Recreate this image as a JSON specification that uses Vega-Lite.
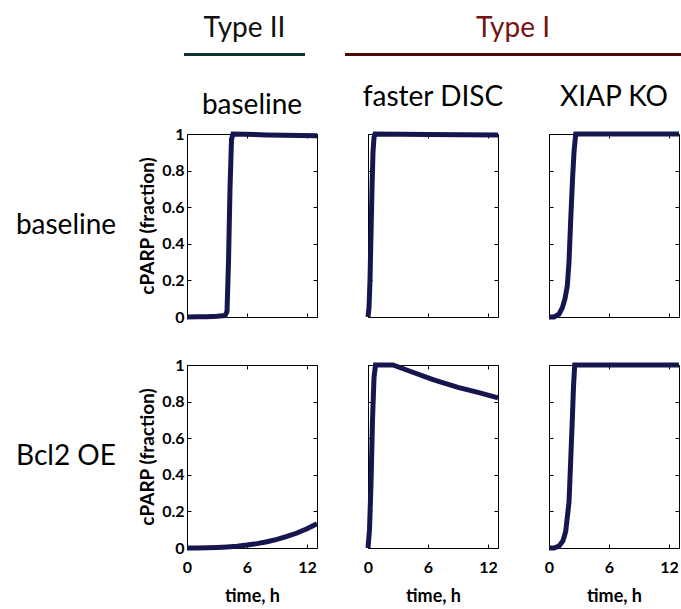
{
  "$schema": "https://vega.github.io/schema/vega-lite/v6.json",
  "padding": {"left": 6, "top": 14, "right": 0, "bottom": 0},
  "background": "white",
  "spacing": 23,
  "config": {
    "view": {"stroke": "#000", "strokeWidth": 1},
    "font": "Lato",
    "axis": {"grid": false, "domain": false, "minExtent": 0, "tickColor": "#000", "tickWidth": 1, "tickSize": -4, "labelFont": "Lato", "labelFontWeight": "bold", "labelFontSize": 16, "labelColor": "#000", "labelFlush": false, "titleFont": "Lato", "titleFontWeight": "bold", "titleColor": "#000", "titleFontSize": 19},
    "title": {"font": "Lato", "fontSize": 28, "fontWeight": "normal", "color": "#000"}
  },
  "datasets": {
    "curves": [
      {"model": "Type II baseline", "condition": "baseline", "t": 0, "v": 0},
      {"model": "Type II baseline", "condition": "baseline", "t": 1, "v": 0.001},
      {"model": "Type II baseline", "condition": "baseline", "t": 2, "v": 0.002},
      {"model": "Type II baseline", "condition": "baseline", "t": 3, "v": 0.004},
      {"model": "Type II baseline", "condition": "baseline", "t": 3.8, "v": 0.008},
      {"model": "Type II baseline", "condition": "baseline", "t": 4.0, "v": 0.03},
      {"model": "Type II baseline", "condition": "baseline", "t": 4.15, "v": 0.3},
      {"model": "Type II baseline", "condition": "baseline", "t": 4.3, "v": 0.7},
      {"model": "Type II baseline", "condition": "baseline", "t": 4.45, "v": 0.97},
      {"model": "Type II baseline", "condition": "baseline", "t": 4.6, "v": 1.0},
      {"model": "Type II baseline", "condition": "baseline", "t": 8, "v": 0.995},
      {"model": "Type II baseline", "condition": "baseline", "t": 13, "v": 0.99},

      {"model": "faster DISC", "condition": "baseline", "t": 0, "v": 0},
      {"model": "faster DISC", "condition": "baseline", "t": 0.1, "v": 0.05},
      {"model": "faster DISC", "condition": "baseline", "t": 0.2, "v": 0.2},
      {"model": "faster DISC", "condition": "baseline", "t": 0.3, "v": 0.45},
      {"model": "faster DISC", "condition": "baseline", "t": 0.4, "v": 0.7},
      {"model": "faster DISC", "condition": "baseline", "t": 0.5, "v": 0.9},
      {"model": "faster DISC", "condition": "baseline", "t": 0.6, "v": 0.98},
      {"model": "faster DISC", "condition": "baseline", "t": 0.7, "v": 1.0},
      {"model": "faster DISC", "condition": "baseline", "t": 6, "v": 0.997},
      {"model": "faster DISC", "condition": "baseline", "t": 13, "v": 0.995},

      {"model": "XIAP KO", "condition": "baseline", "t": 0, "v": 0},
      {"model": "XIAP KO", "condition": "baseline", "t": 0.5, "v": 0},
      {"model": "XIAP KO", "condition": "baseline", "t": 1.0, "v": 0.015},
      {"model": "XIAP KO", "condition": "baseline", "t": 1.33, "v": 0.05},
      {"model": "XIAP KO", "condition": "baseline", "t": 1.6, "v": 0.1},
      {"model": "XIAP KO", "condition": "baseline", "t": 1.83, "v": 0.17},
      {"model": "XIAP KO", "condition": "baseline", "t": 2.0, "v": 0.3},
      {"model": "XIAP KO", "condition": "baseline", "t": 2.17, "v": 0.53},
      {"model": "XIAP KO", "condition": "baseline", "t": 2.35, "v": 0.75},
      {"model": "XIAP KO", "condition": "baseline", "t": 2.5, "v": 0.9},
      {"model": "XIAP KO", "condition": "baseline", "t": 2.67, "v": 1.0},
      {"model": "XIAP KO", "condition": "baseline", "t": 13, "v": 1.0},

      {"model": "Type II baseline", "condition": "Bcl2 OE", "t": 0, "v": 0},
      {"model": "Type II baseline", "condition": "Bcl2 OE", "t": 1, "v": 0},
      {"model": "Type II baseline", "condition": "Bcl2 OE", "t": 2, "v": 0.001},
      {"model": "Type II baseline", "condition": "Bcl2 OE", "t": 3, "v": 0.003},
      {"model": "Type II baseline", "condition": "Bcl2 OE", "t": 4, "v": 0.006},
      {"model": "Type II baseline", "condition": "Bcl2 OE", "t": 5, "v": 0.01},
      {"model": "Type II baseline", "condition": "Bcl2 OE", "t": 6, "v": 0.016},
      {"model": "Type II baseline", "condition": "Bcl2 OE", "t": 7, "v": 0.024},
      {"model": "Type II baseline", "condition": "Bcl2 OE", "t": 8, "v": 0.034},
      {"model": "Type II baseline", "condition": "Bcl2 OE", "t": 9, "v": 0.047},
      {"model": "Type II baseline", "condition": "Bcl2 OE", "t": 10, "v": 0.063},
      {"model": "Type II baseline", "condition": "Bcl2 OE", "t": 11, "v": 0.082},
      {"model": "Type II baseline", "condition": "Bcl2 OE", "t": 12, "v": 0.105},
      {"model": "Type II baseline", "condition": "Bcl2 OE", "t": 13, "v": 0.132},

      {"model": "faster DISC", "condition": "Bcl2 OE", "t": 0, "v": 0},
      {"model": "faster DISC", "condition": "Bcl2 OE", "t": 0.15, "v": 0.1},
      {"model": "faster DISC", "condition": "Bcl2 OE", "t": 0.3, "v": 0.35},
      {"model": "faster DISC", "condition": "Bcl2 OE", "t": 0.45, "v": 0.7},
      {"model": "faster DISC", "condition": "Bcl2 OE", "t": 0.6, "v": 0.93},
      {"model": "faster DISC", "condition": "Bcl2 OE", "t": 0.75, "v": 1.0},
      {"model": "faster DISC", "condition": "Bcl2 OE", "t": 2.5, "v": 1.0},
      {"model": "faster DISC", "condition": "Bcl2 OE", "t": 4, "v": 0.97},
      {"model": "faster DISC", "condition": "Bcl2 OE", "t": 6.5, "v": 0.92},
      {"model": "faster DISC", "condition": "Bcl2 OE", "t": 9, "v": 0.878},
      {"model": "faster DISC", "condition": "Bcl2 OE", "t": 11, "v": 0.85},
      {"model": "faster DISC", "condition": "Bcl2 OE", "t": 13, "v": 0.82},

      {"model": "XIAP KO", "condition": "Bcl2 OE", "t": 0, "v": 0},
      {"model": "XIAP KO", "condition": "Bcl2 OE", "t": 0.5, "v": 0},
      {"model": "XIAP KO", "condition": "Bcl2 OE", "t": 1.0, "v": 0.01},
      {"model": "XIAP KO", "condition": "Bcl2 OE", "t": 1.4, "v": 0.04},
      {"model": "XIAP KO", "condition": "Bcl2 OE", "t": 1.67, "v": 0.09},
      {"model": "XIAP KO", "condition": "Bcl2 OE", "t": 2.0, "v": 0.25},
      {"model": "XIAP KO", "condition": "Bcl2 OE", "t": 2.15, "v": 0.45},
      {"model": "XIAP KO", "condition": "Bcl2 OE", "t": 2.33, "v": 0.7},
      {"model": "XIAP KO", "condition": "Bcl2 OE", "t": 2.45, "v": 0.88},
      {"model": "XIAP KO", "condition": "Bcl2 OE", "t": 2.57, "v": 1.0},
      {"model": "XIAP KO", "condition": "Bcl2 OE", "t": 13, "v": 1.0}
    ]
  },
  "vconcat": [
    {
      "spacing": 40,
      "hconcat": [
        {"width": 138, "height": 3, "view": {"stroke": null}, "data": {"values": [{}]}, "mark": "text", "encoding": {}},
        {"width": 121, "height": 3, "view": {"stroke": null, "fill": "#0f3034"}, "title": {"text": "Type II", "offset": 6, "color": "#111"}, "data": {"values": [{}]}, "mark": "text", "encoding": {}},
        {"width": 336, "height": 3, "view": {"stroke": null, "fill": "#4e0a0a"}, "title": {"text": "Type I", "offset": 6, "color": "#751313"}, "data": {"values": [{}]}, "mark": "text", "encoding": {}}
      ]
    },
    {
      "spacing": 26,
      "vconcat": [
        {
          "spacing": 29,
          "hconcat": [
            {
              "spacing": 12,
              "hconcat": [
                {"width": 120, "height": 183, "view": {"stroke": null}, "data": {"values": [{"label": "baseline"}]}, "mark": {"type": "text", "fontSize": 28, "font": "Lato", "color": "#000"}, "encoding": {"text": {"field": "label"}}},
                {
                  "width": 130, "height": 183,
                  "title": {"text": "baseline", "frame": "group", "offset": 4},
                  "data": {"name": "curves"},
                  "transform": [{"filter": "datum.model === 'Type II baseline' && datum.condition === 'baseline'"}],
                  "layer": [
                    {"mark": {"type": "line", "color": "#16164f", "strokeWidth": 5},
                     "encoding": {
                       "x": {"field": "t", "type": "quantitative", "scale": {"domain": [0, 13], "nice": false, "zero": false}, "axis": {"orient": "bottom", "values": [0, 6, 12], "labels": false, "title": null}},
                       "y": {"field": "v", "type": "quantitative", "scale": {"domain": [0, 1], "nice": false}, "axis": {"orient": "left", "values": [0, 0.2, 0.4, 0.6, 0.8, 1], "format": "~g", "title": "cPARP (fraction)", "labelPadding": 7, "titlePadding": 4}}
                     }},
                    {"mark": {"type": "line", "color": "#16164f", "strokeWidth": 5, "opacity": 0},
                     "encoding": {
                       "x": {"field": "t", "type": "quantitative", "axis": {"orient": "top", "values": [0, 6, 12], "labels": false, "title": null}},
                       "y": {"field": "v", "type": "quantitative", "axis": {"orient": "right", "values": [0, 0.2, 0.4, 0.6, 0.8, 1], "labels": false, "title": null}}
                     }}
                  ],
                  "resolve": {"axis": {"x": "independent", "y": "independent"}}
                }
              ]
            },
            {
              "width": 130, "height": 183,
              "title": {"text": "faster DISC", "frame": "group", "offset": 12},
              "data": {"name": "curves"},
              "transform": [{"filter": "datum.model === 'faster DISC' && datum.condition === 'baseline'"}],
              "layer": [
                {"mark": {"type": "line", "color": "#16164f", "strokeWidth": 5},
                 "encoding": {
                   "x": {"field": "t", "type": "quantitative", "scale": {"domain": [0, 13], "nice": false, "zero": false}, "axis": {"orient": "bottom", "values": [0, 6, 12], "labels": false, "title": null}},
                   "y": {"field": "v", "type": "quantitative", "scale": {"domain": [0, 1], "nice": false}, "axis": {"orient": "left", "values": [0, 0.2, 0.4, 0.6, 0.8, 1], "labels": false, "title": null}}
                 }},
                {"mark": {"type": "line", "color": "#16164f", "strokeWidth": 5, "opacity": 0},
                 "encoding": {
                   "x": {"field": "t", "type": "quantitative", "axis": {"orient": "top", "values": [0, 6, 12], "labels": false, "title": null}},
                   "y": {"field": "v", "type": "quantitative", "axis": {"orient": "right", "values": [0, 0.2, 0.4, 0.6, 0.8, 1], "labels": false, "title": null}}
                 }}
              ],
              "resolve": {"axis": {"x": "independent", "y": "independent"}}
            },
            {
              "width": 130, "height": 183,
              "title": {"text": "XIAP KO", "frame": "group", "offset": 12},
              "data": {"name": "curves"},
              "transform": [{"filter": "datum.model === 'XIAP KO' && datum.condition === 'baseline'"}],
              "layer": [
                {"mark": {"type": "line", "color": "#16164f", "strokeWidth": 5},
                 "encoding": {
                   "x": {"field": "t", "type": "quantitative", "scale": {"domain": [0, 13], "nice": false, "zero": false}, "axis": {"orient": "bottom", "values": [0, 6, 12], "labels": false, "title": null}},
                   "y": {"field": "v", "type": "quantitative", "scale": {"domain": [0, 1], "nice": false}, "axis": {"orient": "left", "values": [0, 0.2, 0.4, 0.6, 0.8, 1], "labels": false, "title": null}}
                 }},
                {"mark": {"type": "line", "color": "#16164f", "strokeWidth": 5, "opacity": 0},
                 "encoding": {
                   "x": {"field": "t", "type": "quantitative", "axis": {"orient": "top", "values": [0, 6, 12], "labels": false, "title": null}},
                   "y": {"field": "v", "type": "quantitative", "axis": {"orient": "right", "values": [0, 0.2, 0.4, 0.6, 0.8, 1], "labels": false, "title": null}}
                 }}
              ],
              "resolve": {"axis": {"x": "independent", "y": "independent"}}
            }
          ]
        },
        {
          "spacing": 29,
          "hconcat": [
            {
              "spacing": 12,
              "hconcat": [
                {"width": 120, "height": 183, "view": {"stroke": null}, "data": {"values": [{"label": "Bcl2 OE"}]}, "mark": {"type": "text", "fontSize": 28, "font": "Lato", "color": "#000"}, "encoding": {"text": {"field": "label"}}},
                {
                  "width": 130, "height": 183,
                  "data": {"name": "curves"},
                  "transform": [{"filter": "datum.model === 'Type II baseline' && datum.condition === 'Bcl2 OE'"}],
                  "layer": [
                    {"mark": {"type": "line", "color": "#16164f", "strokeWidth": 5},
                     "encoding": {
                       "x": {"field": "t", "type": "quantitative", "scale": {"domain": [0, 13], "nice": false, "zero": false}, "axis": {"orient": "bottom", "values": [0, 6, 12], "title": "time, h", "labelPadding": 15, "titlePadding": 12, "titleFontSize": 18}},
                       "y": {"field": "v", "type": "quantitative", "scale": {"domain": [0, 1], "nice": false}, "axis": {"orient": "left", "values": [0, 0.2, 0.4, 0.6, 0.8, 1], "format": "~g", "title": "cPARP (fraction)", "labelPadding": 7, "titlePadding": 4}}
                     }},
                    {"mark": {"type": "line", "color": "#16164f", "strokeWidth": 5, "opacity": 0},
                     "encoding": {
                       "x": {"field": "t", "type": "quantitative", "axis": {"orient": "top", "values": [0, 6, 12], "labels": false, "title": null}},
                       "y": {"field": "v", "type": "quantitative", "axis": {"orient": "right", "values": [0, 0.2, 0.4, 0.6, 0.8, 1], "labels": false, "title": null}}
                     }}
                  ],
                  "resolve": {"axis": {"x": "independent", "y": "independent"}}
                }
              ]
            },
            {
              "width": 130, "height": 183,
              "data": {"name": "curves"},
              "transform": [{"filter": "datum.model === 'faster DISC' && datum.condition === 'Bcl2 OE'"}],
              "layer": [
                {"mark": {"type": "line", "color": "#16164f", "strokeWidth": 5},
                 "encoding": {
                   "x": {"field": "t", "type": "quantitative", "scale": {"domain": [0, 13], "nice": false, "zero": false}, "axis": {"orient": "bottom", "values": [0, 6, 12], "title": "time, h", "labelPadding": 15, "titlePadding": 12, "titleFontSize": 18}},
                   "y": {"field": "v", "type": "quantitative", "scale": {"domain": [0, 1], "nice": false}, "axis": {"orient": "left", "values": [0, 0.2, 0.4, 0.6, 0.8, 1], "labels": false, "title": null}}
                 }},
                {"mark": {"type": "line", "color": "#16164f", "strokeWidth": 5, "opacity": 0},
                 "encoding": {
                   "x": {"field": "t", "type": "quantitative", "axis": {"orient": "top", "values": [0, 6, 12], "labels": false, "title": null}},
                   "y": {"field": "v", "type": "quantitative", "axis": {"orient": "right", "values": [0, 0.2, 0.4, 0.6, 0.8, 1], "labels": false, "title": null}}
                 }}
              ],
              "resolve": {"axis": {"x": "independent", "y": "independent"}}
            },
            {
              "width": 130, "height": 183,
              "data": {"name": "curves"},
              "transform": [{"filter": "datum.model === 'XIAP KO' && datum.condition === 'Bcl2 OE'"}],
              "layer": [
                {"mark": {"type": "line", "color": "#16164f", "strokeWidth": 5},
                 "encoding": {
                   "x": {"field": "t", "type": "quantitative", "scale": {"domain": [0, 13], "nice": false, "zero": false}, "axis": {"orient": "bottom", "values": [0, 6, 12], "title": "time, h", "labelPadding": 15, "titlePadding": 12, "titleFontSize": 18}},
                   "y": {"field": "v", "type": "quantitative", "scale": {"domain": [0, 1], "nice": false}, "axis": {"orient": "left", "values": [0, 0.2, 0.4, 0.6, 0.8, 1], "labels": false, "title": null}}
                 }},
                {"mark": {"type": "line", "color": "#16164f", "strokeWidth": 5, "opacity": 0},
                 "encoding": {
                   "x": {"field": "t", "type": "quantitative", "axis": {"orient": "top", "values": [0, 6, 12], "labels": false, "title": null}},
                   "y": {"field": "v", "type": "quantitative", "axis": {"orient": "right", "values": [0, 0.2, 0.4, 0.6, 0.8, 1], "labels": false, "title": null}}
                 }}
              ],
              "resolve": {"axis": {"x": "independent", "y": "independent"}}
            }
          ]
        }
      ]
    }
  ]
}
